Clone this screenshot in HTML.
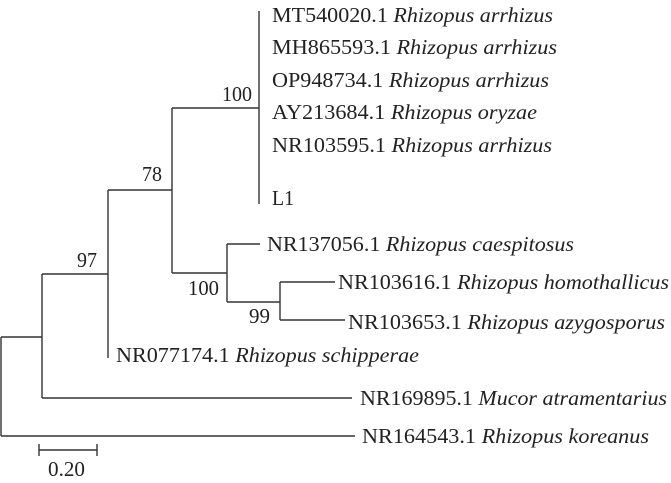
<!DOCTYPE html>
<html><head><meta charset="utf-8"><style>
html,body{margin:0;padding:0;background:#fff;}
svg{display:block;}
text{font-family:"Liberation Serif","Times New Roman",serif;font-size:21px;fill:#222;}
.i{font-style:italic;}
</style></head><body>
<svg width="671" height="483" viewBox="0 0 671 483" xmlns="http://www.w3.org/2000/svg">
<g stroke="#333" stroke-width="1.4" fill="none">
<line x1="259" y1="11" x2="259" y2="204"/>
<line x1="172" y1="108" x2="259" y2="108"/>
<line x1="172" y1="108" x2="172" y2="273"/>
<line x1="108" y1="190" x2="172" y2="190"/>
<line x1="172" y1="273" x2="227" y2="273"/>
<line x1="227" y1="244" x2="227" y2="302"/>
<line x1="227" y1="244" x2="260" y2="244"/>
<line x1="227" y1="302" x2="280" y2="302"/>
<line x1="280" y1="282" x2="280" y2="320"/>
<line x1="280" y1="282" x2="335" y2="282"/>
<line x1="280" y1="320" x2="345" y2="320"/>
<line x1="108" y1="190" x2="108" y2="358"/>
<line x1="42" y1="274" x2="108" y2="274"/>
<line x1="42" y1="274" x2="42" y2="398"/>
<line x1="42" y1="398" x2="352" y2="398"/>
<line x1="1" y1="337" x2="42" y2="337"/>
<line x1="1" y1="337" x2="1" y2="436"/>
<line x1="1" y1="436" x2="355" y2="436"/>
<line x1="39" y1="450" x2="97" y2="450"/>
<line x1="39" y1="444" x2="39" y2="456"/>
<line x1="97" y1="444" x2="97" y2="456"/>
</g>
<text x="272" y="22" textLength="281" lengthAdjust="spacingAndGlyphs">MT540020.1 <tspan class="i">Rhizopus arrhizus</tspan></text>
<text x="272" y="54" textLength="285" lengthAdjust="spacingAndGlyphs">MH865593.1 <tspan class="i">Rhizopus arrhizus</tspan></text>
<text x="272" y="87" textLength="277" lengthAdjust="spacingAndGlyphs">OP948734.1 <tspan class="i">Rhizopus arrhizus</tspan></text>
<text x="272" y="119" textLength="265" lengthAdjust="spacingAndGlyphs">AY213684.1 <tspan class="i">Rhizopus oryzae</tspan></text>
<text x="272" y="152" textLength="280" lengthAdjust="spacingAndGlyphs">NR103595.1 <tspan class="i">Rhizopus arrhizus</tspan></text>
<text x="272" y="205" textLength="22" lengthAdjust="spacingAndGlyphs">L1</text>
<text x="267" y="251" textLength="307" lengthAdjust="spacingAndGlyphs">NR137056.1 <tspan class="i">Rhizopus caespitosus</tspan></text>
<text x="338" y="289" textLength="331" lengthAdjust="spacingAndGlyphs">NR103616.1 <tspan class="i">Rhizopus homothallicus</tspan></text>
<text x="348" y="329" textLength="317" lengthAdjust="spacingAndGlyphs">NR103653.1 <tspan class="i">Rhizopus azygosporus</tspan></text>
<text x="116" y="362" textLength="303" lengthAdjust="spacingAndGlyphs">NR077174.1 <tspan class="i">Rhizopus schipperae</tspan></text>
<text x="360" y="405" textLength="307" lengthAdjust="spacingAndGlyphs">NR169895.1 <tspan class="i">Mucor atramentarius</tspan></text>
<text x="362" y="443" textLength="287" lengthAdjust="spacingAndGlyphs">NR164543.1 <tspan class="i">Rhizopus koreanus</tspan></text>
<text x="222" y="101" textLength="30" lengthAdjust="spacingAndGlyphs">100</text>
<text x="142" y="181" textLength="20" lengthAdjust="spacingAndGlyphs">78</text>
<text x="188" y="295" textLength="31" lengthAdjust="spacingAndGlyphs">100</text>
<text x="249" y="323" textLength="21" lengthAdjust="spacingAndGlyphs">99</text>
<text x="77" y="267" textLength="20" lengthAdjust="spacingAndGlyphs">97</text>
<text x="48" y="476" textLength="37" lengthAdjust="spacingAndGlyphs">0.20</text>
</svg>
</body></html>
